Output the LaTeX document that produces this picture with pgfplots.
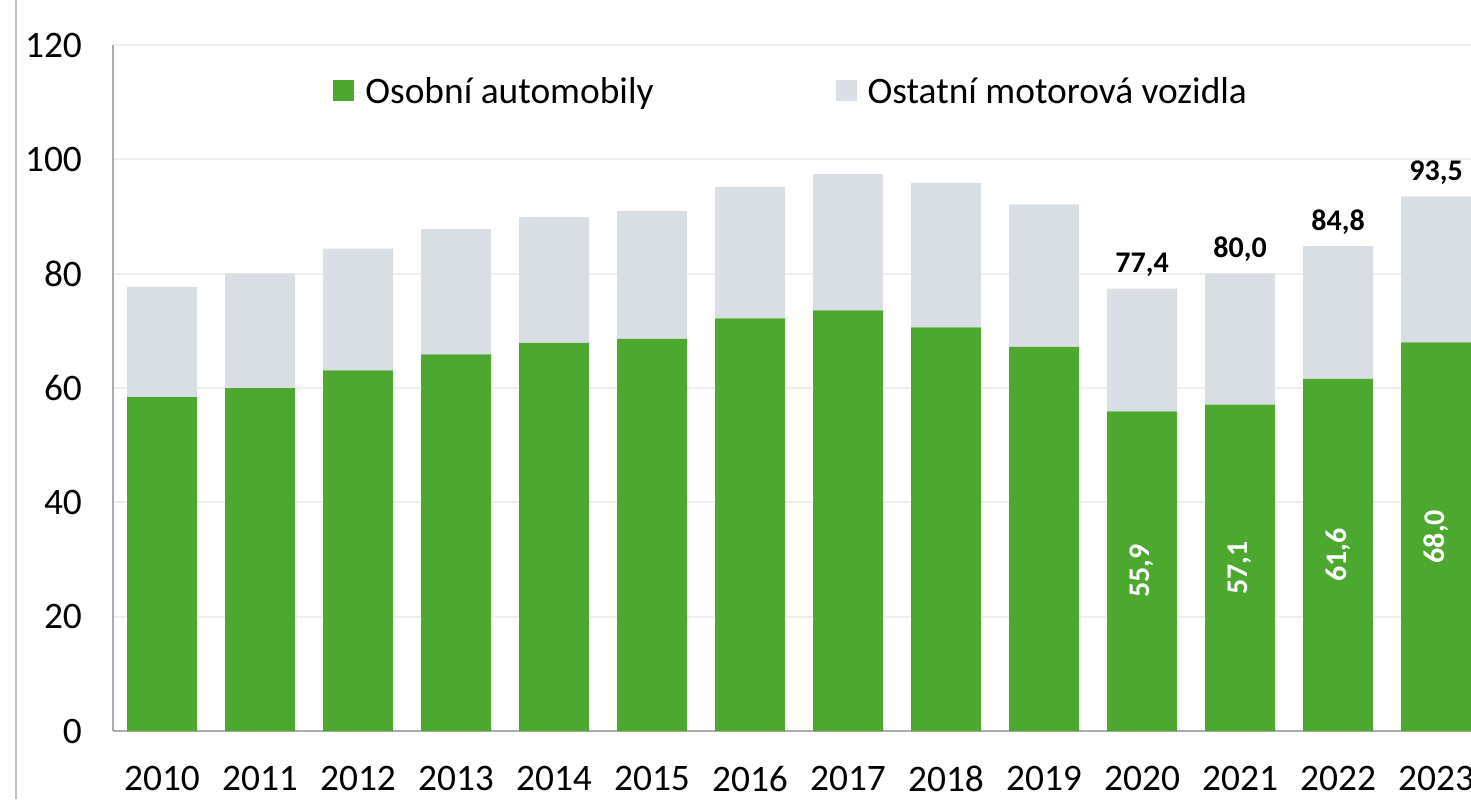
\documentclass[border=0pt]{standalone}
\usepackage{fontspec}
\setmainfont{Carlito}
\usepackage{pgfplots}
\pgfplotsset{compat=1.18}
\definecolor{osobni}{RGB}{76,168,47}
\definecolor{ostatni}{RGB}{217,221,228}
\definecolor{gridc}{RGB}{238,238,238}
\definecolor{axisc}{RGB}{170,170,170}

\pgfplotsset{
    frame/.style={
        at={(56.5pt,34pt)}, anchor=south west,
        width=679pt, height=343pt, scale only axis,
        xmin=-0.5, xmax=13.357, ymin=0, ymax=120,
    },
}
\tikzset{lbl/.style={font=\fontsize{15}{18}\selectfont\bfseries}}

\begin{document}
\begin{tikzpicture}
\useasboundingbox (0,0) rectangle (735.5pt,399.5pt);
\draw[color=gray!50, line width=1pt] (8pt,0) -- (8pt,399.5pt);
\begin{axis}[
    frame,
    ybar stacked, bar width=35pt,
    ytick={0,20,...,120},
    xtick={0,...,13},
    xticklabels={2010,2011,2012,2013,2014,2015,2016,2017,2018,2019,2020,2021,2022,2023},
    axis x line=bottom, axis y line=left,
    axis line style={-, draw=axisc, line width=1pt},
    major tick length=0pt,
    ymajorgrids, grid style={draw=gridc, line width=1pt},
    tick label style={font=\fontsize{18.7}{22}\selectfont},
    yticklabel style={xshift=-12pt},
    xticklabel style={yshift=-14pt},
    /pgf/number format/assume math mode=true,
    legend columns=2,
    legend style={at={(0.162,0.931)}, anchor=west, draw=none, fill=none,
        inner sep=0pt, font=\fontsize{18.7}{22}\selectfont,
        /tikz/every even column/.append style={column sep=89pt}},
    legend image code/.code={
        \path (0pt,0pt) -- (14pt,0pt);
        \fill[#1, draw=none] (0pt,-4.5pt) rectangle (10.5pt,6pt);},
]
\addplot[fill=osobni, draw=none] coordinates {
    (0,58.4) (1,60.0) (2,63.1) (3,65.9) (4,67.9) (5,68.6) (6,72.2)
    (7,73.6) (8,70.6) (9,67.2) (10,55.9) (11,57.1) (12,61.6) (13,68.0)
};
\addlegendentry{Osobní automobily}
\addplot[fill=ostatni, draw=none] coordinates {
    (0,19.3) (1,20.0) (2,21.3) (3,21.9) (4,22.0) (5,22.4) (6,23.0)
    (7,23.8) (8,25.3) (9,24.9) (10,21.5) (11,22.9) (12,23.2) (13,25.5)
};
\addlegendentry{Ostatní motorová vozidla}
\end{axis}

% value labels for 2020-2023
\begin{axis}[frame, hide axis, clip=false,
    /pgf/number format/assume math mode=true,
    point meta=explicit,
    nodes near coords={\pgfmathprintnumber[fixed, fixed zerofill, precision=1, use comma]{\pgfplotspointmeta}},
]
% totals above the bars
\addplot[draw=none, mark=none,
    every node near coord/.style={lbl, color=black, anchor=base, inner sep=0pt, yshift=8pt},
] coordinates {(10,77.4) [77.4] (11,80.0) [80.0] (12,84.8) [84.8] (13,93.5) [93.5]};
% passenger cars, centred in the green part
\addplot[draw=none, mark=none,
    every node near coord/.style={lbl, color=white, anchor=center, inner sep=0pt, rotate=90},
] coordinates {(10,27.95) [55.9] (11,28.55) [57.1] (12,30.8) [61.6] (13,34.0) [68.0]};
\end{axis}
\end{tikzpicture}
\end{document}
